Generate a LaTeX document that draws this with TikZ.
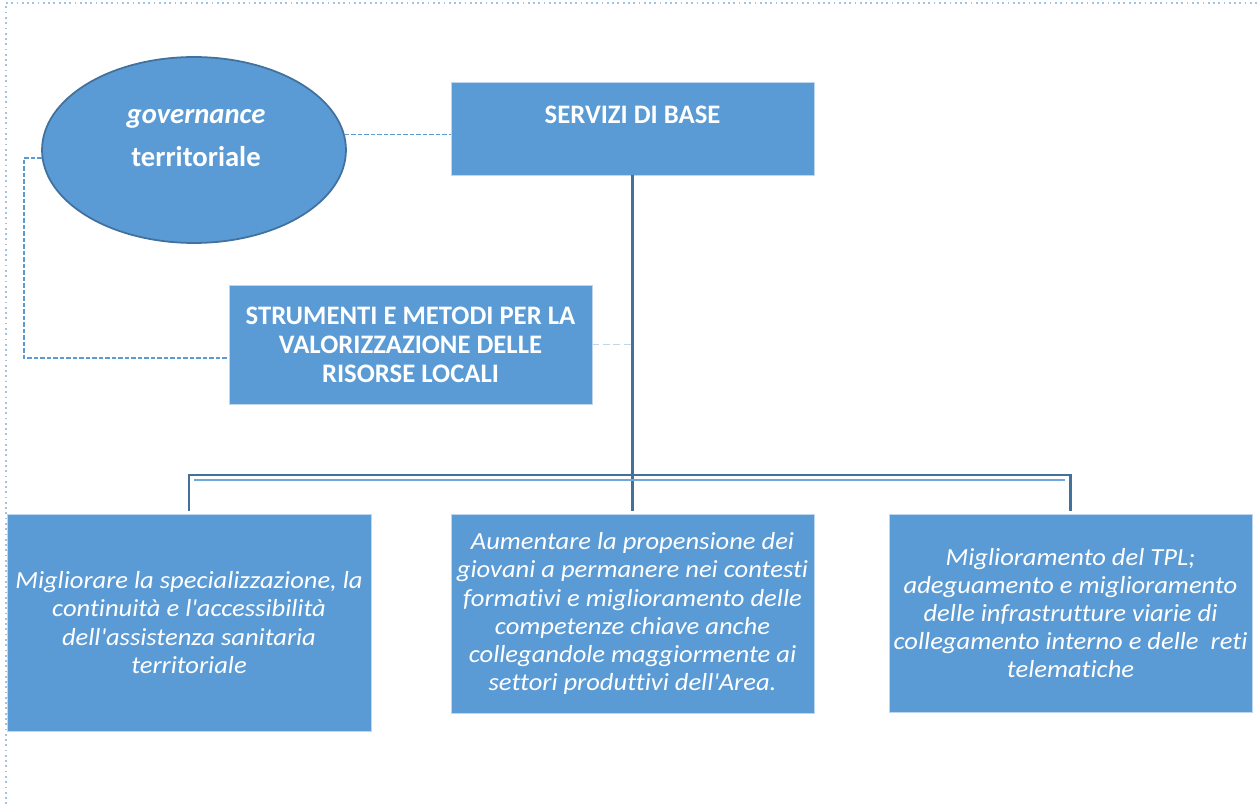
\documentclass[tikz,border=0pt]{standalone}
\usepackage{fontspec}
\setmainfont{Carlito}[Ligatures={TeX,NoCommon}]
\newfontfamily\corsivo{Carlito}[Ligatures=NoCommon, FakeStretch=1.08]
\usetikzlibrary{shapes.geometric}
\definecolor{boxblue}{RGB}{91,155,213}
\definecolor{lineblue}{RGB}{65,113,156}
\definecolor{paleblue}{RGB}{189,215,238}
\definecolor{busblue}{RGB}{111,168,220}
\definecolor{frameblue}{RGB}{157,195,230}

\begin{document}
\begin{tikzpicture}[x=0.02cm, y=-0.02cm]
        \tikzstyle{riquadro}=[rectangle, fill=boxblue, draw=paleblue, line width=0.4pt, inner sep=0, text=white, align=center];
        \tikzstyle{titolo}=[text=white, align=center, font=\fontsize{15.2}{16.5}\selectfont\bfseries];
        \tikzstyle{obiettivo}=[riquadro, minimum width=7.26cm, font=\corsivo\fontsize{14}{16}\selectfont\itshape];
        \tikzstyle{tratteggio}=[boxblue, line width=0.6pt, dash pattern=on 2.5pt off 1.2pt];
        \tikzstyle{ramo}=[lineblue, line width=1.3pt];

        \useasboundingbox (0,0) rectangle (1257,807);
        \draw[frameblue, dotted, line width=1pt] (1257,3) -- (6,3) -- (6,807);

        \node[ellipse, fill=boxblue, draw=lineblue, line width=1pt, minimum width=6.08cm, minimum height=3.72cm] (gov) at (194,150) {};
        \node[titolo, font=\fontsize{16.3}{20}\selectfont\bfseries] (govtxt) at (196,138) {\textit{governance}\\[4pt]territoriale};

        \node[riquadro, minimum width=7.26cm, minimum height=1.86cm] (servizi) at (632.5,128.5) {};
        \node[titolo] (servizitxt) at (632.5,115) {SERVIZI DI BASE};

        \node[riquadro, titolo, minimum width=7.26cm, minimum height=2.38cm] (strumenti) at (410.5,344.5)
          {STRUMENTI E METODI PER LA\\VALORIZZAZIONE DELLE\\RISORSE LOCALI};

        \node[obiettivo, minimum width=7.28cm, minimum height=4.34cm] (obleft) at (189,622.5)
          {Migliorare la specializzazione, la\\continuità e l\textquotesingle accessibilità\\dell\textquotesingle assistenza sanitaria\\territoriale};
        \node[obiettivo, minimum height=3.98cm] (obmid) at (632.5,613.5)
          {Aumentare la propensione dei\\giovani a permanere nei contesti\\formativi e miglioramento delle\\competenze chiave anche\\collegandole maggiormente ai\\settori produttivi dell\textquotesingle Area.};
        \node[obiettivo, minimum height=3.96cm] (obright) at (1070.5,613)
          {Miglioramento del TPL;\\adeguamento e miglioramento\\delle infrastrutture viarie di\\collegamento interno e delle~ reti\\telematiche};

        % collegamenti
        \coordinate (piega) at (24,358);
        \coordinate (bus) at (servizi.south |- 0,475);
        \draw[tratteggio] (gov.6) -- (gov.6 -| servizi.west);
        \draw[tratteggio] (gov.183) -| (piega) -- (piega -| strumenti.west);
        \draw[paleblue, line width=0.9pt, dash pattern=on 4pt off 2pt] (strumenti.east) -- (strumenti.east -| servizi.south);

        \draw[ramo, shorten >=1.5pt] (servizi.south) -- (obmid.north);
        \draw[ramo, shorten <=1.5pt, shorten >=1.5pt] (obleft.north) -- (obleft.north |- bus) -- (obright.north |- bus) -- (obright.north);
        \draw[busblue, line width=0.9pt] ([xshift=3pt, yshift=-2.8pt]obleft.north |- bus) -- ([xshift=-3pt, yshift=-2.8pt]obright.north |- bus);
    \end{tikzpicture}
\end{document}
